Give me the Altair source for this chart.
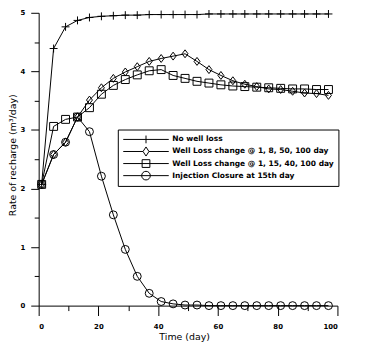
import altair as alt
import pandas as pd

days = [1, 5, 9, 13, 17, 21, 25, 29, 33, 37, 41, 45, 49,
        53, 57, 61, 65, 69, 73, 77, 81, 85, 89, 93, 97]

no_loss = [2.07, 4.39, 4.76, 4.87, 4.92, 4.94, 4.95, 4.96, 4.96, 4.97, 4.97, 4.97, 4.97,
           4.97, 4.98, 4.98, 4.98, 4.98, 4.98, 4.98, 4.98, 4.98, 4.98, 4.98, 4.98]
loss_8_50 = [2.07, 2.58, 2.79, 3.22, 3.51, 3.72, 3.88, 3.99, 4.08, 4.17, 4.22, 4.26, 4.30,
             4.17, 4.03, 3.93, 3.84, 3.78, 3.74, 3.70, 3.69, 3.66, 3.63, 3.62, 3.59]
loss_15_40 = [2.07, 3.06, 3.18, 3.22, 3.38, 3.61, 3.76, 3.86, 3.94, 4.01, 4.03, 3.93, 3.88,
              3.83, 3.80, 3.77, 3.75, 3.74, 3.73, 3.72, 3.71, 3.70, 3.70, 3.69, 3.69]
closure_15 = [2.07, 2.58, 2.79, 3.22, 2.97, 2.21, 1.55, 0.96, 0.50, 0.21, 0.07, 0.03, 0.01,
              0.01, 0.0, 0.0, 0.0, 0.0, 0.0, 0.0, 0.0, 0.0, 0.0, 0.0, 0.0]

series_names = [
    "No well loss",
    "Well Loss change @ 1, 8, 50, 100 day",
    "Well Loss change @ 1, 15, 40, 100 day",
    "Injection Closure at 15th day",
]
series_values = [no_loss, loss_8_50, loss_15_40, closure_15]

x_ticks = list(range(0, 101, 10))
y_ticks = [i * 0.5 for i in range(11)]

rows = []
for name, vals in zip(series_names, series_values):
    for d, v in zip(days, vals):
        rows.append({"day": d, "value": v, "series": name})
df = pd.DataFrame(rows)

marker_paths = [
    "M-1,0H1M0,-1V1",
    "M0,-1L0.75,0L0,1L-0.75,0Z",
    "M-1,-1H1V1H-1Z",
    "circle",
]
marker_sizes = [64, 64, 49, 49]
legend_paths = [
    "M-1,0H1M0,-0.17V0.17",
    "M-1,0H-0.13M0.13,0H1M0,-0.2L0.13,0L0,0.2L-0.13,0Z",
    "M-1,0H1M-0.17,-0.17H0.17V0.17H-0.17Z",
    "M-1,0H1M0.19,0A0.19,0.19,0,1,1,-0.19,0A0.19,0.19,0,1,1,0.19,0Z",
]

font = "DejaVu Sans"

x_enc = alt.X(
    "day:Q",
    scale=alt.Scale(domain=[0, 100], nice=False, zero=False),
    axis=alt.Axis(
        values=x_ticks,
        labelExpr="datum.value % 20 === 0 ? format(datum.value, 'd') : ''",
        tickSize={"condition": {"test": "datum.value % 20 === 0", "value": 10}, "value": 5},
        labelPadding=7,
        labelFont=font, labelFontSize=7, labelFontWeight="bold", labelColor="black",
        tickColor="black", domainColor="black", tickWidth=1, domainWidth=1,
        grid=False,
        title="Time (day)",
        titleFont=font, titleFontSize=9.5, titleFontWeight="normal", titleColor="black",
        titleX=147, titleY=26, titleBaseline="top", titleAlign="center",
    ),
)
y_enc = alt.Y(
    "value:Q",
    scale=alt.Scale(domain=[0, 5], nice=False, zero=False),
    axis=alt.Axis(
        values=y_ticks,
        labelExpr="datum.value % 1 === 0 ? format(datum.value, 'd') : ''",
        tickSize={"condition": {"test": "datum.value % 1 === 0", "value": 8}, "value": 4.5},
        labelPadding=6,
        labelFont=font, labelFontSize=7, labelFontWeight="bold", labelColor="black",
        tickColor="black", domainColor="black", tickWidth=1, domainWidth=1,
        grid=False,
        title="Rate of recharge (m³/day)",
        titleFont=font, titleFontSize=9.5, titleFontWeight="normal", titleColor="black",
        titleAngle=270, titleX=-23, titleY=143.5, titleBaseline="alphabetic", titleAlign="center",
    ),
)

base = alt.Chart(df)

lines = base.mark_line(color="black", strokeWidth=1).encode(
    x=x_enc, y=y_enc, detail="series:N"
)

points = base.mark_point(filled=False, color="black", strokeWidth=1, opacity=1).encode(
    x=x_enc,
    y=y_enc,
    shape=alt.Shape("series:N", scale=alt.Scale(domain=series_names, range=marker_paths), legend=None),
    size=alt.Size("series:N", scale=alt.Scale(domain=series_names, range=marker_sizes), legend=None),
)

legend_layer = base.mark_point(filled=False, color="black", strokeWidth=1, opacity=1).encode(
    x=x_enc,
    y=y_enc,
    shape=alt.Shape(
        "series:N",
        scale=alt.Scale(domain=series_names, range=legend_paths),
        legend=alt.Legend(
            title=None,
            orient="none",
            legendX=80,
            legendY=118,
            padding=4,
            strokeColor="black",
            fillColor="white",
            symbolSize=2116,
            symbolStrokeWidth=1,
            symbolStrokeColor="black",
            symbolFillColor="transparent",
            symbolOpacity=1,
            clipHeight=12,
            rowPadding=0.2,
            symbolOffset=1,
            labelOffset=3,
            labelFont=font,
            labelFontSize=7.6,
            labelFontWeight="bold",
            labelColor="black",
            labelLimit=400,
        ),
    ),
).transform_filter("false")

chart = (
    alt.layer(lines, points, legend_layer)
    .resolve_scale(shape="independent", size="independent")
    .properties(
        width=302,
        height=296,
        autosize=alt.AutoSizeParams(type="none"),
        padding={"left": 31, "top": 3, "right": 40, "bottom": 42},
        background="white",
    )
    .configure_view(stroke=None)
)

chart.save("out.html", embed_options={"renderer": "svg", "actions": False})
